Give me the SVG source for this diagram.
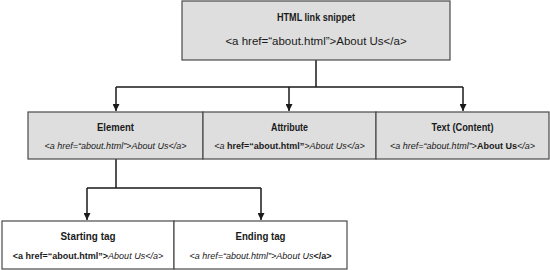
<svg xmlns="http://www.w3.org/2000/svg" width="550" height="270" viewBox="0 0 550 270">
  <defs>
    <style>
      .box-gray { fill: #dedede; stroke: #4a4a4a; stroke-width: 1.2; }
      .box-white { fill: #ffffff; stroke: #4a4a4a; stroke-width: 1.2; }
      .title { font-family: "Liberation Sans", Arial, sans-serif; font-weight: bold; font-size: 11px; fill: #1a1a1a; text-anchor: middle; }
      .code { font-family: "Liberation Sans", Arial, sans-serif; font-size: 9px; fill: #1a1a1a; text-anchor: middle; }
      .code-lg { font-family: "Liberation Sans", Arial, sans-serif; font-size: 11.5px; fill: #1a1a1a; text-anchor: middle; }
      .i { font-style: italic; }
      .b { font-weight: bold; }
      .wire { fill: none; stroke: #1a1a1a; stroke-width: 1.5; }
    </style>
    <marker id="arrow" viewBox="0 0 8 8" refX="8" refY="4" markerWidth="7" markerHeight="7" markerUnits="userSpaceOnUse" orient="auto">
      <path d="M0,0 L8,4 L0,8 z" fill="#1a1a1a"/>
    </marker>
  </defs>

  <!-- connectors -->
  <g id="connectors">
    <path class="wire" d="M316,60 V87 M116,87 H463"/>
    <path class="wire" d="M116,87 V111" marker-end="url(#arrow)"/>
    <path class="wire" d="M289,87 V111" marker-end="url(#arrow)"/>
    <path class="wire" d="M463,87 V111" marker-end="url(#arrow)"/>
    <path class="wire" d="M116,159 V188 M87,188 H261"/>
    <path class="wire" d="M87,188 V220" marker-end="url(#arrow)"/>
    <path class="wire" d="M261,188 V220" marker-end="url(#arrow)"/>
  </g>

  <!-- root: the whole snippet -->
  <g id="snippet">
    <rect class="box-gray" x="182" y="1" width="268" height="59"/>
    <text class="title" x="316" y="21" textLength="78" lengthAdjust="spacingAndGlyphs">HTML link snippet</text>
    <text class="code-lg" x="316" y="45">&lt;a href=“about.html”&gt;About Us&lt;/a&gt;</text>
  </g>

  <!-- second level -->
  <g id="element">
    <rect class="box-gray" x="28" y="112" width="175" height="47"/>
    <text class="title" x="115.5" y="131" textLength="37" lengthAdjust="spacingAndGlyphs">Element</text>
    <text class="code i" x="115.5" y="149">&lt;a href=“about.html”&gt;About Us&lt;/a&gt;</text>
  </g>

  <g id="attribute">
    <rect class="box-gray" x="203" y="112" width="173" height="47"/>
    <text class="title" x="289.5" y="131" textLength="37" lengthAdjust="spacingAndGlyphs">Attribute</text>
    <text class="code" x="289.5" y="149"><tspan class="i">&lt;a </tspan><tspan class="b">href=“about.html”</tspan><tspan class="i">&gt;About Us&lt;/a&gt;</tspan></text>
  </g>

  <g id="text-content">
    <rect class="box-gray" x="376" y="112" width="173" height="47"/>
    <text class="title" x="462.5" y="131" textLength="62" lengthAdjust="spacingAndGlyphs">Text (Content)</text>
    <text class="code" x="462.5" y="149"><tspan class="i">&lt;a href=“about.html”&gt;</tspan><tspan class="b">About Us</tspan><tspan class="i">&lt;/a&gt;</tspan></text>
  </g>

  <!-- third level -->
  <g id="starting-tag">
    <rect class="box-white" x="2" y="221" width="172" height="48"/>
    <text class="title" x="88" y="240" textLength="55" lengthAdjust="spacingAndGlyphs">Starting tag</text>
    <text class="code" x="88" y="259"><tspan class="b">&lt;a href=“about.html”&gt;</tspan><tspan class="i">About Us&lt;/a&gt;</tspan></text>
  </g>

  <g id="ending-tag">
    <rect class="box-white" x="174" y="221" width="173" height="48"/>
    <text class="title" x="260.5" y="240" textLength="50" lengthAdjust="spacingAndGlyphs">Ending tag</text>
    <text class="code" x="260.5" y="259"><tspan class="i">&lt;a href=“about.html”&gt;About Us</tspan><tspan class="b">&lt;/a&gt;</tspan></text>
  </g>
</svg>
